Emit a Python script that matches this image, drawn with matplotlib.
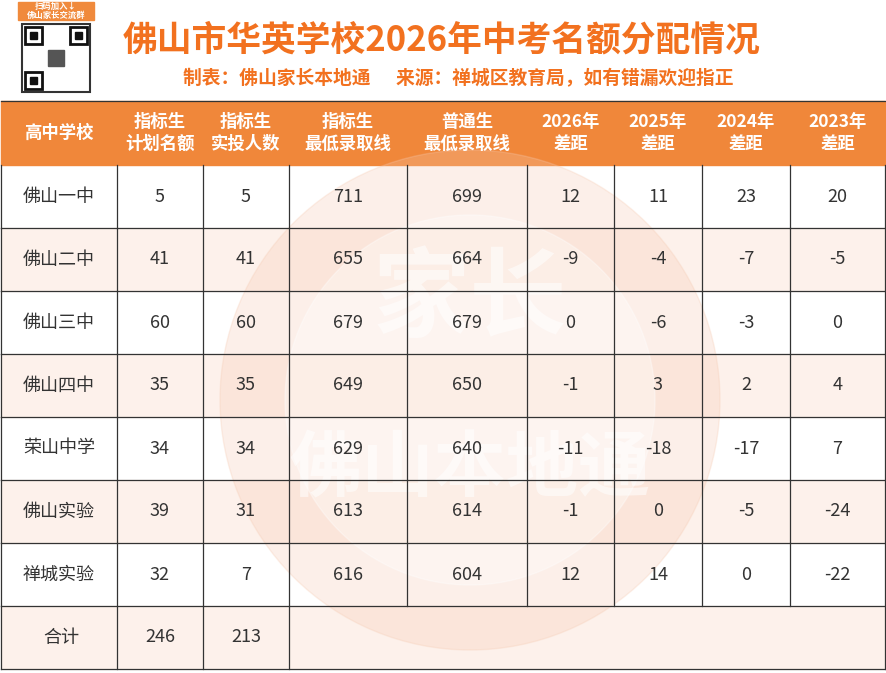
import matplotlib
matplotlib.use("Agg")
import matplotlib.pyplot as plt
from matplotlib.patches import Rectangle, Circle

plt.rcParams['font.family'] = ['Noto Sans CJK SC', 'DejaVu Sans']

title = "佛山市华英学校2026年中考名额分配情况"
subtitle = "制表：佛山家长本地通      来源：禅城区教育局，如有错漏欢迎指正"
headers = ["高中学校", "指标生\n计划名额", "指标生\n实投人数", "指标生\n最低录取线", "普通生\n最低录取线",
           "2026年\n差距", "2025年\n差距", "2024年\n差距", "2023年\n差距"]
schools = ["佛山一中", "佛山二中", "佛山三中", "佛山四中", "荣山中学", "佛山实验", "禅城实验"]
plan = [5, 41, 60, 35, 34, 39, 32]
actual = [5, 41, 60, 35, 34, 31, 7]
quota_line = [711, 655, 679, 649, 629, 613, 616]
normal_line = [699, 664, 679, 650, 640, 614, 604]
gap2026 = [12, -9, 0, -1, -11, -1, 12]
gap2025 = [11, -4, -6, 3, -18, 0, 14]
gap2024 = [23, -7, -3, 2, -17, -5, 0]
gap2023 = [20, -5, 0, 4, 7, -24, -22]
total_label = "合计"
total_plan = 246
total_actual = 213

fig = plt.figure(figsize=(8.87, 6.73), dpi=100)
ax = fig.add_axes([0, 0, 1, 1])
ax.set_xlim(0, 887); ax.set_ylim(673, 0); ax.axis('off')

orange = '#F0873A'
title_c = '#F2711F'
txt_c = '#333333'
xs = [1, 117, 203, 289, 407, 527, 614, 702, 790, 885]
y0, hh, rh = 101, 64, 63

ax.add_patch(Rectangle((xs[0], y0), xs[-1]-xs[0], hh, color=orange, zorder=1))
for i, h in enumerate(headers):
    ax.text((xs[i]+xs[i+1])/2, y0+hh/2, h, ha='center', va='center', color='white',
            fontsize=12.5, fontweight='bold', linespacing=1.3, zorder=5)

rows = list(zip(schools, plan, actual, quota_line, normal_line, gap2026, gap2025, gap2024, gap2023))
for r, row in enumerate(rows):
    yt = y0 + hh + r*rh
    if r % 2 == 1:
        ax.add_patch(Rectangle((xs[0], yt), xs[-1]-xs[0], rh, color='#FDF1EB', zorder=0))
    for c, v in enumerate(row):
        if c == 0:
            ax.text(xs[0]+22, yt+rh/2, v, ha='left', va='center', fontsize=13, color=txt_c, zorder=5)
        else:
            ax.text((xs[c]+xs[c+1])/2, yt+rh/2, str(v), ha='center', va='center', fontsize=13, color=txt_c, zorder=5)
    for c in range(len(xs)):
        ax.plot([xs[c]]*2, [yt, yt+rh], color='#333333', lw=0.9, zorder=4)
    ax.plot([xs[0], xs[-1]], [yt+rh]*2, color='#333333', lw=0.9, zorder=4)

yt = y0 + hh + len(rows)*rh
ax.add_patch(Rectangle((xs[0], yt), xs[-1]-xs[0], rh, color='#FDF1EB', zorder=0))
ax.text(xs[0]+42, yt+rh/2, total_label, ha='left', va='center', fontsize=13, color=txt_c, zorder=5)
ax.text((xs[1]+xs[2])/2, yt+rh/2, str(total_plan), ha='center', va='center', fontsize=13, color=txt_c, zorder=5)
ax.text((xs[2]+xs[3])/2, yt+rh/2, str(total_actual), ha='center', va='center', fontsize=13, color=txt_c, zorder=5)
for c in [0, 1, 2, 3, 9]:
    ax.plot([xs[c]]*2, [yt, yt+rh], color='#333333', lw=0.9, zorder=4)
ax.plot([xs[0], xs[-1]], [yt+rh]*2, color='#333333', lw=0.9, zorder=4)
ax.plot([xs[0], xs[-1]], [y0, y0], color='#333333', lw=0.9, zorder=4)

# watermark
ax.add_patch(Circle((470, 400), 250, color='#F6C9B0', alpha=0.28, zorder=2))
ax.add_patch(Circle((470, 400), 185, color='white', alpha=0.35, zorder=2))
ax.text(470, 300, "家长", ha='center', va='center', fontsize=70, fontweight='bold', color='white', alpha=0.55, zorder=3)
ax.text(470, 470, "佛山本地通", ha='center', va='center', fontsize=52, fontweight='bold', color='white', alpha=0.55, zorder=3)

ax.text(442, 40, title, ha='center', va='center', fontsize=25, fontweight='bold', color=title_c)
ax.text(458, 79, subtitle, ha='center', va='center', fontsize=13.5, fontweight='bold', color=title_c)

ax.add_patch(Rectangle((18, 2), 76, 18, color='#F08A3C', zorder=1))
ax.text(56, 11, "扫码加入↓\n佛山家长交流群", ha='center', va='center', fontsize=6, color='white', fontweight='bold', linespacing=1.1, zorder=5)
ax.add_patch(Rectangle((22, 24), 68, 68, facecolor='white', edgecolor='#333333', lw=1.5))
for (qx, qy) in [(25, 27), (70, 27), (25, 72)]:
    ax.add_patch(Rectangle((qx, qy), 17, 17, facecolor='none', edgecolor='#111111', lw=2))
    ax.add_patch(Rectangle((qx+5, qy+5), 7, 7, color='#111111'))
ax.add_patch(Rectangle((48, 50), 16, 16, color='#555555'))

fig.savefig("out.png", dpi=100)
